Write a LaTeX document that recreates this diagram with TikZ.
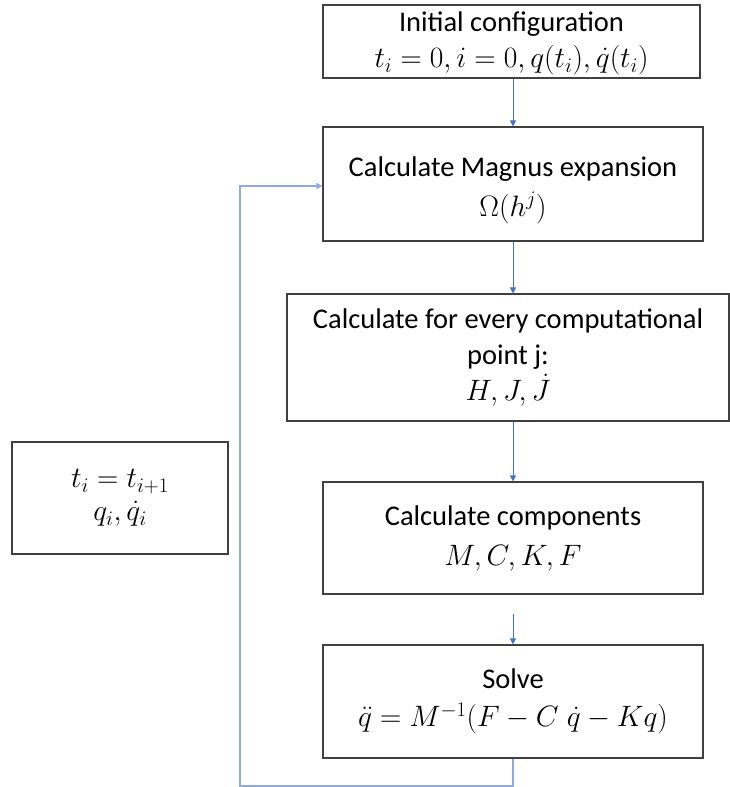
\RequirePackage{fix-cm}
\documentclass[tikz,border=0pt]{standalone}
\usepackage[no-math]{fontspec}
\setmainfont{Carlito}
\usetikzlibrary{positioning,arrows.meta}
\definecolor{flowblue}{RGB}{68,114,196}
\definecolor{loopblue}{RGB}{143,170,220}
\definecolor{boxgray}{RGB}{64,64,64}
\newcommand{\mathln}[1]{{\fontsize{29.5}{40}\selectfont$#1$}}

\begin{document}
\begin{tikzpicture}[x=1pt, y=1pt,
  stage/.style={rectangle, draw=boxgray, line width=1.1pt, align=center, inner sep=0pt, font=\fontsize{28.5}{40}\selectfont},
  arrow/.style={-{Triangle[length=6pt, width=6pt]}, flowblue, line width=0.9pt},
  loopback/.style={-{Triangle[length=6pt, width=6pt]}, loopblue, line width=1.5pt},
]
\useasboundingbox (0,0) rectangle (729,787);

% === Main flow ===
\node[stage, minimum width=377pt, minimum height=73pt] (init) at (511.5, 745.5) {\rule{0pt}{24pt}Initial configuration\\[-4pt]\mathln{t_i = 0, i = 0, q(t_i), \dot{q}(t_i)}};
\node[stage, minimum width=380pt, minimum height=114pt] (magnus) at (513, 603) {\rule{0pt}{32pt}Calculate Magnus expansion\\\mathln{\Omega(h^j)}};
\node[stage, minimum width=442pt, minimum height=127pt] (points) at (508, 429.5) {Calculate for every computational\\[-4pt]point j:\\[-4pt]\mathln{H, J, \dot{J}}};
\node[stage, minimum width=380pt, minimum height=112pt] (comps) at (513, 249) {Calculate components\\\mathln{M, C, K, F}};
\node[stage, minimum width=380pt, minimum height=113pt] (solve) at (513, 85.5) {Solve\\[-2pt]\mathln{\ddot{q} = M^{-1}(F - C\;\dot{q} - Kq)}};

\draw[arrow] (init.south -| magnus) -- (magnus.north);
\draw[arrow] (magnus) -- (points.north -| magnus);
\draw[arrow] (points.south -| magnus) -- (comps);
\draw[arrow, shorten <=19pt] (comps) -- (solve);

% === Update step ===
\node[stage, minimum width=216pt, minimum height=112pt] (update) at (120, 289) {\mathln{t_i = t_{i+1}}\\[-7pt]\mathln{q_i, \dot{q}_i}};

% === Loop back to Magnus ===
\coordinate (turn) at (240, 1);
\draw[loopback] (solve.south) |- (turn) |- ([yshift=-2pt]magnus.west);

\end{tikzpicture}
\end{document}
